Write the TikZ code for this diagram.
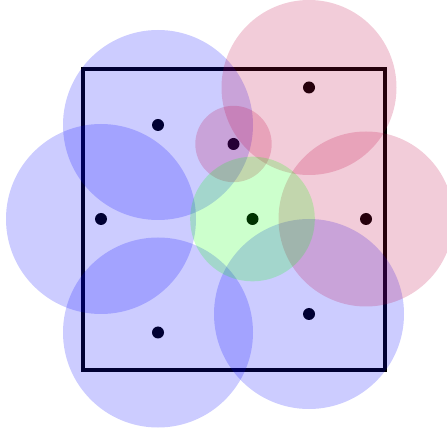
\documentclass[tikz,border=0pt]{standalone}
\begin{document}
\begin{tikzpicture}[x=1pt,y=-1pt,
  dotmark/.style={circle,fill=black,inner sep=0pt,minimum size=12pt},
  bluezone/.style={fill=blue,fill opacity=0.2},
  purplezone/.style={fill=purple,fill opacity=0.2},
  greenzone/.style={fill=green,fill opacity=0.2}]
\useasboundingbox (0,0) rectangle (447,435);
\draw[line width=3.2pt] (83,69) rectangle (385,370);
\node[dotmark] (p1) at (158,125) {};
\node[dotmark] (p2) at (101,219) {};
\node[dotmark] (p3) at (158,332.5) {};
\node[dotmark] (p4) at (309,314) {};
\node[dotmark] (p5) at (309,87.5) {};
\node[dotmark] (p6) at (366,219) {};
\node[dotmark] (p7) at (233.5,144) {};
\node[dotmark] (p8) at (252.5,219) {};
\fill[bluezone] (p1.center) circle (95);
\fill[bluezone] (p2.center) circle (95);
\fill[bluezone] (p3.center) circle (95);
\fill[bluezone] (p4.center) circle (95);
\fill[purplezone] (p5.center) circle (87.5);
\fill[purplezone] (p6.center) circle (87.5);
\fill[purplezone] (p7.center) circle (38.2);
\fill[greenzone] (p8.center) circle (62.3);
\end{tikzpicture}
\end{document}
